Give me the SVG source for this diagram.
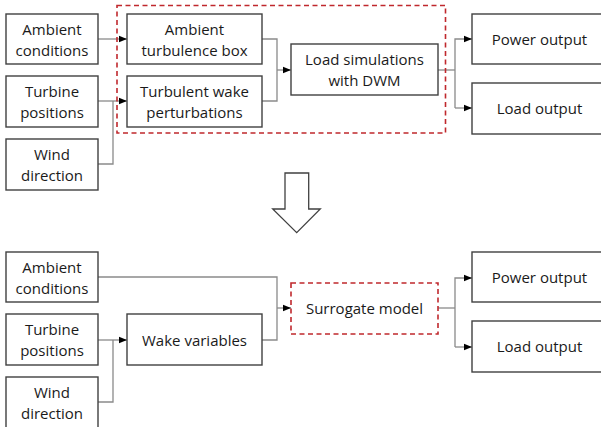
<svg xmlns="http://www.w3.org/2000/svg" width="601" height="427" viewBox="0 0 601 427">
<defs>
<style>
.box{fill:#fff;stroke:#404040;stroke-width:1.4}
.dash{fill:none;stroke:#c0282d;stroke-width:1.6;stroke-dasharray:5,3.5}
.t{font-family:"Open Sans","Noto Sans",sans-serif;font-size:15px;fill:#1a1a1a;text-anchor:middle}
.c{fill:none;stroke:#8a8a8a;stroke-width:1.3}
</style>
<marker id="ah" viewBox="0 0 8 8" refX="8" refY="4" markerWidth="8" markerHeight="8" markerUnits="userSpaceOnUse" orient="auto">
<path d="M0,0.8 L8,4 L0,7.2 Z" fill="#000"/>
</marker>
</defs>
<rect x="0" y="0" width="601" height="427" fill="#fff"/>

<g id="connectors">
<path class="c" d="M98,39 H127" marker-end="url(#ah)"/>
<path class="c" d="M98,101 H127" marker-end="url(#ah)"/>
<path class="c" d="M98,164 H113 V101"/>
<path class="c" d="M262,39 H277 V101 H262"/>
<path class="c" d="M277,70 H291" marker-end="url(#ah)"/>
<path class="c" d="M438,70 H455"/>
<path class="c" d="M455,108 V39 H472" marker-end="url(#ah)"/>
<path class="c" d="M455,108 H472" marker-end="url(#ah)"/>

<path class="c" d="M98,277 H277 V340 H262"/>
<path class="c" d="M277,308 H291" marker-end="url(#ah)"/>
<path class="c" d="M98,340 H127" marker-end="url(#ah)"/>
<path class="c" d="M98,402 H113 V340"/>
<path class="c" d="M438,308 H455"/>
<path class="c" d="M455,347 V278 H472" marker-end="url(#ah)"/>
<path class="c" d="M455,347 H472" marker-end="url(#ah)"/>
</g>

<rect id="sim-group" class="dash" x="117" y="5.5" width="328.5" height="127.5"/>

<g id="n-ambient1"><rect class="box" x="6" y="14" width="92" height="50"/><text class="t" x="52" y="35">Ambient</text><text class="t" x="52" y="56">conditions</text></g>
<g id="n-turbine1"><rect class="box" x="6" y="76" width="92" height="51"/><text class="t" x="52" y="97">Turbine</text><text class="t" x="52" y="118">positions</text></g>
<g id="n-wind1"><rect class="box" x="6" y="139" width="92" height="51"/><text class="t" x="52" y="160">Wind</text><text class="t" x="52" y="181">direction</text></g>
<g id="n-atb"><rect class="box" x="127" y="14" width="135" height="50"/><text class="t" x="194.5" y="35">Ambient</text><text class="t" x="194.5" y="56">turbulence box</text></g>
<g id="n-twp"><rect class="box" x="127" y="76" width="135" height="51"/><text class="t" x="194.5" y="97">Turbulent wake</text><text class="t" x="194.5" y="118">perturbations</text></g>
<g id="n-load-sim"><rect class="box" x="291" y="44" width="147" height="51"/><text class="t" x="364.5" y="65">Load simulations</text><text class="t" x="364.5" y="86">with DWM</text></g>
<g id="n-power1"><rect class="box" x="472" y="14" width="135" height="50"/><text class="t" x="539.5" y="45">Power output</text></g>
<g id="n-load1"><rect class="box" x="472" y="83" width="135" height="51"/><text class="t" x="539.5" y="114">Load output</text></g>

<g id="down-arrow"><path d="M285,173 H308.7 V209 H320.3 L296.7,232.7 L272.7,209 H285 Z" fill="#fff" stroke="#404040" stroke-width="1.3"/></g>

<g id="n-ambient2"><rect class="box" x="6" y="252" width="92" height="50"/><text class="t" x="52" y="273">Ambient</text><text class="t" x="52" y="294">conditions</text></g>
<g id="n-turbine2"><rect class="box" x="6" y="314" width="92" height="51"/><text class="t" x="52" y="335">Turbine</text><text class="t" x="52" y="356">positions</text></g>
<g id="n-wind2"><rect class="box" x="6" y="377" width="92" height="60"/><text class="t" x="52" y="398">Wind</text><text class="t" x="52" y="419">direction</text></g>
<g id="n-wake"><rect class="box" x="127" y="314" width="135" height="51"/><text class="t" x="194.5" y="346">Wake variables</text></g>
<g id="n-surrogate"><rect class="dash" x="291" y="283" width="147" height="51" fill="#fff"/><text class="t" x="364.5" y="314">Surrogate model</text></g>
<g id="n-power2"><rect class="box" x="472" y="252" width="135" height="50"/><text class="t" x="539.5" y="283">Power output</text></g>
<g id="n-load2"><rect class="box" x="472" y="321" width="135" height="51"/><text class="t" x="539.5" y="352">Load output</text></g>
</svg>
